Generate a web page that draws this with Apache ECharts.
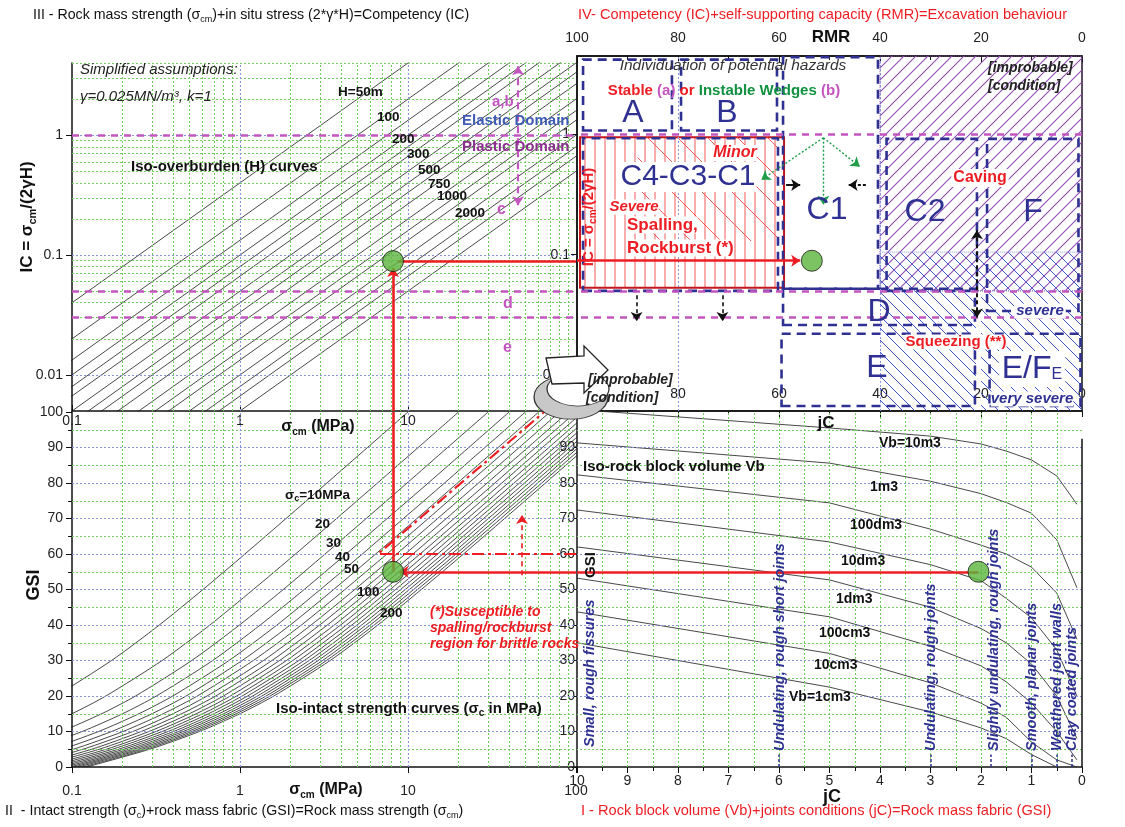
<!DOCTYPE html>
<html>
<head>
<meta charset="utf-8">
<script src="https://cdn.jsdelivr.net/npm/echarts@6/dist/echarts.min.js"></script>
<style>
html,body{margin:0;padding:0;background:#fff;}
#chart{width:1125px;height:827px;}
</style>
</head>
<body>
<div id="chart"></div>
<script>
// ---------------- values ----------------
// III: iso-overburden lines (depth H in m), end points [sigma_cm, IC]
const overburdenDepth = [50, 100, 150, 200, 250, 300, 400, 500, 600, 750, 1000, 1250, 1500, 2000, 2500, 3000, 4000];
const overburdenStart = [[0.01,0.004],[0.01,0.002],[0.01,0.00133],[0.01,0.001],[0.01,0.0008],[0.01,0.000667],[0.01,0.0005],[0.01,0.0004],[0.01,0.000333],[0.01,0.000267],[0.01,0.0002],[0.01,0.00016],[0.01,0.000133],[0.01,0.0001],[0.01,0.00008],[0.01,0.0000667],[0.01,0.00005]];
const overburdenEnd = [[100,40],[100,20],[100,13.3],[100,10],[100,8],[100,6.67],[100,5],[100,4],[100,3.33],[100,2.67],[100,2],[100,1.6],[100,1.33],[100,1],[100,0.8],[100,0.667],[100,0.5]];

// II: iso-intact strength curves, sigma_cm (MPa) at each GSI sample
const gsiSamples = [0, 5, 10, 15, 20, 30, 40, 50, 60, 70, 80, 90, 100];
const intactStrength = [10, 20, 30, 40, 50, 60, 70, 80, 90, 100, 110, 120, 130, 140, 150, 160, 170, 180, 190, 200];
const intactCurves = [
  [0.00608, 0.0145, 0.0287, 0.0499, 0.0796, 0.172, 0.331, 0.602, 1.07, 1.88, 3.29, 5.74, 10],
  [0.0122, 0.029, 0.0574, 0.0998, 0.159, 0.344, 0.662, 1.2, 2.14, 3.76, 6.58, 11.5, 20],
  [0.0182, 0.0435, 0.0861, 0.15, 0.239, 0.516, 0.993, 1.81, 3.21, 5.64, 9.87, 17.2, 30],
  [0.0243, 0.058, 0.115, 0.2, 0.318, 0.688, 1.32, 2.41, 4.28, 7.52, 13.2, 23, 40],
  [0.0304, 0.0725, 0.144, 0.25, 0.398, 0.86, 1.66, 3.01, 5.35, 9.4, 16.5, 28.7, 50],
  [0.0365, 0.087, 0.172, 0.299, 0.478, 1.03, 1.99, 3.61, 6.42, 11.3, 19.7, 34.4, 60],
  [0.0426, 0.102, 0.201, 0.349, 0.557, 1.2, 2.32, 4.21, 7.49, 13.2, 23, 40.2, 70],
  [0.0486, 0.116, 0.23, 0.399, 0.637, 1.38, 2.65, 4.82, 8.56, 15, 26.3, 45.9, 80],
  [0.0547, 0.131, 0.258, 0.449, 0.716, 1.55, 2.98, 5.42, 9.63, 16.9, 29.6, 51.7, 90],
  [0.0608, 0.145, 0.287, 0.499, 0.796, 1.72, 3.31, 6.02, 10.7, 18.8, 32.9, 57.4, 100],
  [0.0669, 0.16, 0.316, 0.549, 0.876, 1.89, 3.64, 6.62, 11.8, 20.7, 36.2, 63.1, 110],
  [0.073, 0.174, 0.344, 0.599, 0.955, 2.06, 3.97, 7.22, 12.8, 22.6, 39.5, 68.9, 120],
  [0.079, 0.189, 0.373, 0.649, 1.03, 2.24, 4.3, 7.83, 13.9, 24.4, 42.8, 74.6, 130],
  [0.0851, 0.203, 0.402, 0.699, 1.11, 2.41, 4.63, 8.43, 15, 26.3, 46.1, 80.4, 140],
  [0.0912, 0.218, 0.431, 0.749, 1.19, 2.58, 4.97, 9.03, 16.1, 28.2, 49.4, 86.1, 150],
  [0.0973, 0.232, 0.459, 0.798, 1.27, 2.75, 5.3, 9.63, 17.1, 30.1, 52.6, 91.8, 160],
  [0.103, 0.247, 0.488, 0.848, 1.35, 2.92, 5.63, 10.2, 18.2, 32, 55.9, 97.6, 170],
  [0.109, 0.261, 0.517, 0.898, 1.43, 3.1, 5.96, 10.8, 19.3, 33.8, 59.2, 103, 180],
  [0.116, 0.276, 0.545, 0.948, 1.51, 3.27, 6.29, 11.4, 20.3, 35.7, 62.5, 109, 190],
  [0.122, 0.29, 0.574, 0.998, 1.59, 3.44, 6.62, 12, 21.4, 37.6, 65.8, 115, 200]
];

// I: iso-rock block volume curves, GSI at each jC sample
const jcSamples = [10, 5, 3, 2, 1.5, 1, 0.5, 0.1];
const blockVolume = ['10m3', '1m3', '100dm3', '10dm3', '1dm3', '100cm3', '10cm3', '1cm3'];
const blockCurves = [
  [100.7, 95.5, 93.2, 91.0, 89.0, 86.5, 82, 74],
  [91.3, 85.6, 80.5, 77, 74.5, 71.5, 64, 50.5],
  [82.3, 74.4, 67, 62.5, 60, 56.3, 49, 36],
  [72.4, 63.4, 57, 52.5, 47.5, 42, 33, 20],
  [62, 52.7, 45, 39, 35, 29, 20, 8],
  [53.2, 42.3, 34, 28.5, 24, 18, 10, 2],
  [43.7, 32, 23.7, 18, 14, 7, 2, 0],
  [35, 22.5, 15.5, 11, 8, 3.5, 0, null]
];

// worked example
const exampleSigmaCM = 8.15, exampleIC = 0.089, exampleGSI = 55, exampleJC = 2.05, exampleRMR = 53.5;
// IC class limits (a,b | c | d | e)
const icLimits = [1, 0.05, 0.025];

// axis helper values (grid lines)
const logMinor = [0.2,0.3,0.4,0.5,0.6,0.7,0.8,0.9,2,3,4,5,6,7,8,9,20,30,40,50,60,70,80,90];
const logMajor = [1, 10];
const icMinor = [0.006,0.007,0.008,0.009,0.02,0.03,0.04,0.05,0.06,0.07,0.08,0.09,0.2,0.3,0.4,0.5,0.6,0.7,0.8,0.9,2,3,4];
const icMajor = [0.01, 0.1, 1];
const gsiMinor = [5,15,25,35,45,55,65,75,85,95];
const gsiMajor = [10,20,30,40,50,60,70,80,90];
const jcMinor = [0.5,1,1.5,2,2.5,3,3.5,4,4.5,5,5.5,6,6.5,7,7.5,8,8.5,9,9.5];
const jointClasses = [6, 3, 1.8, 1, 0.5, 0.2];

// excavation behaviour zones: [RMR from, RMR to], [IC from, IC to]
const zoneBoxes = {
  A: [[98.8, 81.2], [1.08, 4.2]],
  B: [[79.4, 60.4], [1.08, 4.2]],
  C4C3C1: [[98.8, 60.2], [0.05, 0.93]],
  C1: [[59.2, 40.4], [0.052, 4.4]],
  C2: [[38.7, 20.8], [0.05, 0.92]],
  F: [[18.8, 0.7], [0.034, 0.92]],
  D: [[59.2, 21.2], [0.026, 0.052]],
  E: [[59.5, 21.2], [0.0055, 0.022]],
  EF: [[18.3, 0.3], [0.0055, 0.022]]
};
const spallingZone = [[99.4, 59], [0.053, 0.95]];
const cavingZone = [[40, 0], [0.05, 4.5]];
const cavingSevere = [[40, 0], [0.05, 0.105]];
const squeezingZones = [[[40, 21], [0.005, 0.05]], [[20, 0], [0.005, 0.05]]];

// ---------------- styles ----------------
const FONT = '"Liberation Sans", Arial, Helvetica, sans-serif';
const NAVY = '#2e3192', RED = '#ee1d23', MAG = '#c455c0', PURPLE = '#8b2f8f', GTXT = '#11913f';
const HATCH_P = '#8e4fb0', HATCH_N = '#3d55c8';
const GRID_G = '#6fcf5a', GRID_B = '#8a94da';

function hatch(size, color, width, dirs) {
  const c = document.createElement('canvas');
  c.width = c.height = size;
  const g = c.getContext('2d');
  g.strokeStyle = color; g.lineWidth = width; g.lineCap = 'square';
  dirs.forEach(function (d) {
    g.beginPath();
    if (d === '/') { g.moveTo(0, size); g.lineTo(size, 0); g.moveTo(-2, 2); g.lineTo(2, -2); g.moveTo(size - 2, size + 2); g.lineTo(size + 2, size - 2); }
    if (d === '\\') { g.moveTo(0, 0); g.lineTo(size, size); g.moveTo(size - 2, -2); g.lineTo(size + 2, 2); g.moveTo(-2, size - 2); g.lineTo(2, size + 2); }
    if (d === '|') { g.moveTo(size / 2, 0); g.lineTo(size / 2, size); }
    g.stroke();
  });
  return { image: c, repeat: 'repeat' };
}

function vl(vals, color) { return vals.map(v => ({ xAxis: v, lineStyle: { color: color, type: [2, 2], width: 1 } })); }
function hl(vals, color) { return vals.map(v => ({ yAxis: v, lineStyle: { color: color, type: [2, 2], width: 1 } })); }
function seg(a, b, style, sym) {
  return [{ coord: a, symbol: sym ? sym[0] : 'none' }, { coord: b, symbol: sym ? sym[1] : 'none', lineStyle: style }];
}
function area(r, i, style) { return [{ coord: [r[0], i[0]], itemStyle: Object.assign({ opacity: 1 }, style) }, { coord: [r[1], i[1]] }]; }

const navyBox = { color: 'rgba(0,0,0,0)', borderColor: NAVY, borderWidth: 2.6, borderType: [9, 6] };

// ---------------- series ----------------
const series = [];
function holder(xi, yi, ml, ma, z) {
  series.push({
    type: 'line', xAxisIndex: xi, yAxisIndex: yi, data: [], silent: true, z: z || 1,
    markLine: ml ? { silent: true, symbol: 'none', symbolSize: 9, animation: false, label: { show: false }, data: ml } : undefined,
    markArea: ma ? { silent: true, animation: false, label: { show: false }, data: ma } : undefined
  });
}

// grid lines
holder(0, 0, vl(logMinor, GRID_G).concat(hl(icMinor, GRID_G), vl(logMajor, GRID_B), hl(icMajor, GRID_B)));
holder(3, 2, vl(logMinor, GRID_G).concat(hl(gsiMinor, GRID_G), vl(logMajor, GRID_B), hl(gsiMajor, GRID_B)));
holder(4, 3, vl(jcMinor, GRID_G).concat(hl(gsiMinor, GRID_G), hl(gsiMajor, GRID_B)));
holder(1, 1, vl([80, 40], GRID_B));

// zones of excavation behaviour
holder(1, 1, null, [
  area(squeezingZones[0][0], squeezingZones[0][1], { color: hatch(12, HATCH_N, 1, ['\\']) }),
  area(squeezingZones[1][0], squeezingZones[1][1], { color: hatch(12, HATCH_N, 1, ['\\']) }),
  area(spallingZone[0], spallingZone[1], { color: hatch(10, '#f04a4a', 0.9, ['|']), borderColor: '#c4161c', borderWidth: 2 }),
  area([88, 60], [0.13, 0.95], { color: hatch(30, '#f04a4a', 0.9, ['\\']) }),
  area(cavingZone[0], cavingZone[1], { color: hatch(12, HATCH_P, 1.1, ['/']), borderColor: HATCH_P, borderWidth: 1, borderType: 'dotted' }),
  area(cavingSevere[0], cavingSevere[1], { color: hatch(12, HATCH_N, 1, ['\\']), borderColor: GRID_B, borderWidth: 1, borderType: 'dotted' }),
  area(zoneBoxes.A[0], zoneBoxes.A[1], navyBox),
  area(zoneBoxes.B[0], zoneBoxes.B[1], navyBox),
  area(zoneBoxes.C4C3C1[0], zoneBoxes.C4C3C1[1], navyBox),
  area(zoneBoxes.C1[0], zoneBoxes.C1[1], navyBox),
  area(zoneBoxes.C2[0], zoneBoxes.C2[1], navyBox),
  area(zoneBoxes.F[0], zoneBoxes.F[1], navyBox),
  area(zoneBoxes.D[0], zoneBoxes.D[1], navyBox),
  area(zoneBoxes.E[0], zoneBoxes.E[1], navyBox),
  area(zoneBoxes.EF[0], zoneBoxes.EF[1], navyBox)
], 2);

// IC class limits
const magStyle = { color: MAG, type: [7, 6], width: 2.6 };
holder(0, 0, icLimits.map(v => ({ yAxis: v, lineStyle: magStyle })), null, 3);
holder(1, 1, icLimits.map(v => ({ yAxis: v, lineStyle: magStyle })), null, 3);

// iso-overburden lines
overburdenDepth.forEach(function (h, i) {
  series.push({ type: 'line', name: 'H=' + h, xAxisIndex: 0, yAxisIndex: 0, data: [overburdenStart[i], overburdenEnd[i]],
    symbol: 'none', silent: true, z: 4, lineStyle: { color: '#1a1a1a', width: 0.8 } });
});
// iso-intact strength curves
intactStrength.forEach(function (sc, i) {
  series.push({ type: 'line', name: 'sc=' + sc, xAxisIndex: 3, yAxisIndex: 2, smooth: 0.25,
    data: intactCurves[i].map((s, j) => [s, gsiSamples[j]]), symbol: 'none', silent: true, z: 4,
    lineStyle: { color: '#1a1a1a', width: 0.8 } });
});
// iso-block volume curves
blockVolume.forEach(function (vb, i) {
  const pts = [];
  jcSamples.forEach((j, k) => { if (blockCurves[i][k] !== null) pts.push([j, blockCurves[i][k]]); });
  series.push({ type: 'line', name: 'Vb=' + vb, xAxisIndex: 4, yAxisIndex: 3, data: pts, symbol: 'none', silent: true, z: 4,
    lineStyle: { color: '#333', width: 0.9 } });
});

// joint condition markers on the jC axis
holder(4, 3, jointClasses.map(j => seg([j, 0], [j, 3.5], { color: NAVY, type: [3, 2], width: 1.5 })), null, 5);
// right frame of panel I
holder(4, 3, [seg([0, 0], [0, 92.5], { color: '#111', type: 'solid', width: 1.5 })], null, 5);

// arrows inside the panels
const redSolid = { color: RED, type: 'solid', width: 2.6 };
holder(0, 0, [
  seg([exampleSigmaCM, 0.005], [exampleSigmaCM, 0.078], redSolid, ['none', 'arrow']),
  seg([8.7, exampleIC], [100, exampleIC], redSolid),
  seg([45.2, 3.76], [45.2, 0.26], { color: MAG, type: [7, 5], width: 2.2 }, ['arrow', 'arrow'])
], null, 6);
holder(1, 1, [
  seg([100, exampleIC], [55.8, exampleIC], redSolid, ['none', 'arrow']),
  seg([51.2, 0.94], [51.2, 0.26], { color: '#1f9e4a', type: [2, 2], width: 1.4 }, ['none', 'arrow']),
  seg([51.2, 0.94], [63.5, 0.42], { color: '#1f9e4a', type: [2, 2], width: 1.4 }, ['none', 'arrow']),
  seg([51.2, 0.94], [44.0, 0.54], { color: '#1f9e4a', type: [2, 2], width: 1.4 }, ['none', 'arrow']),
  seg([58.6, 0.38], [55.8, 0.38], { color: '#111', type: 'solid', width: 2 }, ['none', 'arrow']),
  seg([42.8, 0.38], [46.2, 0.38], { color: '#111', type: [3, 2], width: 2 }, ['none', 'arrow']),
  seg([20.8, 0.16], [20.8, 0.03], { color: '#111', type: [4, 3], width: 2 }, ['arrow', 'arrow']),
  seg([88.2, 0.046], [88.2, 0.028], { color: '#111', type: [4, 3], width: 1.6 }, ['none', 'arrow']),
  seg([71.2, 0.046], [71.2, 0.028], { color: '#111', type: [4, 3], width: 1.6 }, ['none', 'arrow'])
], null, 6);
holder(3, 2, [
  seg([exampleSigmaCM, exampleGSI], [exampleSigmaCM, 100], redSolid),
  seg([100, exampleGSI], [8.9, exampleGSI], redSolid, ['none', 'arrow']),
  seg([47.7, 54], [47.7, 71], { color: RED, type: [5, 4], width: 1.6 }, ['none', 'arrow'])
], null, 6);
holder(4, 3, [seg([exampleJC, exampleGSI], [10, exampleGSI], redSolid)], null, 6);

// spalling susceptibility limit (dash-dot)
series.push({ type: 'line', xAxisIndex: 3, yAxisIndex: 2, data: [[100, 60], [6.63, 60], [64.6, 100]], symbol: 'none', silent: true, z: 6,
  lineStyle: { color: RED, width: 2.2, type: [12, 4, 3, 4] } });

// worked-example points
const dotStyle = { color: '#5ab43c', borderColor: '#1a1a1a', borderWidth: 1 };
[[0, 0, [exampleSigmaCM, exampleIC]], [1, 1, [exampleRMR, exampleIC]], [3, 2, [exampleSigmaCM, exampleGSI]], [4, 3, [exampleJC, exampleGSI]]]
  .forEach(function (d) {
    series.push({ type: 'scatter', xAxisIndex: d[0], yAxisIndex: d[1], data: [d[2]], symbolSize: 21, itemStyle: dotStyle, z: 8, silent: true });
  });

// ---------------- axes ----------------
const lbl = { fontSize: 14, color: '#222', fontFamily: FONT };
const axLine = { onZero: false, lineStyle: { color: '#111', width: 1.5 } };
const tickStyle = { lineStyle: { color: '#111', width: 1 } };
const xAxes = [
  { gridIndex: 0, type: 'log', logBase: 10, min: 0.1, max: 100, axisLine: axLine, axisTick: Object.assign({ inside: true, length: 6 }, tickStyle),
    axisLabel: Object.assign({ margin: 3, showMaxLabel: false }, lbl), splitLine: { show: false } },
  { gridIndex: 1, type: 'value', min: 0, max: 100, interval: 20, inverse: true, position: 'top', axisLine: axLine,
    axisTick: Object.assign({ inside: true, length: 7 }, tickStyle), minorTick: { show: true, splitNumber: 2, length: 4, lineStyle: { color: '#111' } },
    axisLabel: Object.assign({ margin: 11 }, lbl), splitLine: { show: false } },
  { gridIndex: 1, type: 'value', min: 0, max: 100, interval: 20, inverse: true, position: 'bottom', axisLine: axLine,
    axisTick: Object.assign({ inside: false, length: 6 }, tickStyle), minorTick: { show: true, splitNumber: 2, length: 4, lineStyle: { color: '#111' } },
    axisLabel: Object.assign({ inside: true, margin: 10 }, lbl), splitLine: { show: false } },
  { gridIndex: 2, type: 'log', logBase: 10, min: 0.1, max: 100, axisLine: axLine, axisTick: Object.assign({ length: 6 }, tickStyle),
    axisLabel: Object.assign({ margin: 17 }, lbl), splitLine: { show: false } },
  { gridIndex: 3, type: 'value', min: 0, max: 10, interval: 1, inverse: true, axisLine: axLine, axisTick: Object.assign({ length: 6 }, tickStyle),
    minorTick: { show: true, splitNumber: 2, length: 4, lineStyle: { color: '#111' } },
    axisLabel: Object.assign({ margin: 7 }, lbl), splitLine: { show: false } }
];
const yAxes = [
  { gridIndex: 0, type: 'log', logBase: 10, min: 0.005, max: 4, axisLine: axLine, axisTick: Object.assign({ length: 6 }, tickStyle),
    axisLabel: Object.assign({ margin: 9, showMinLabel: false, showMaxLabel: false }, lbl), splitLine: { show: false } },
  { gridIndex: 1, type: 'log', logBase: 10, min: 0.005, max: 4.5, axisLine: axLine, axisTick: Object.assign({ length: 6 }, tickStyle),
    axisLabel: Object.assign({ margin: 7, showMinLabel: false, showMaxLabel: false }, lbl), splitLine: { show: false } },
  { gridIndex: 2, type: 'value', min: 0, max: 100, interval: 10, axisLine: axLine, axisTick: Object.assign({ length: 6 }, tickStyle),
    minorTick: { show: true, splitNumber: 2, length: 4, lineStyle: { color: '#111' } },
    axisLabel: Object.assign({ margin: 9 }, lbl), splitLine: { show: false } },
  { gridIndex: 3, type: 'value', min: 0, max: 100, interval: 10, axisLine: axLine, axisTick: Object.assign({ length: 5 }, tickStyle),
    axisLabel: Object.assign({ margin: 2, showMaxLabel: false }, lbl), splitLine: { show: false } }
];

// ---------------- text and decoration ----------------
const G = [];
function T(x, y, text, o) {
  o = o || {};
  const size = o.size || 14, w = o.weight || 'normal', st = o.italic ? 'italic' : 'normal', col = o.color || '#111';
  const rich = Object.assign({
    s: { fontSize: Math.round(size * 0.64), fontWeight: w, fontStyle: st, fontFamily: FONT, fill: col, verticalAlign: 'bottom', padding: [Math.round(size * 0.62), 0, 0, 0] }
  }, o.rich || {});
  return {
    type: 'text', x: x, y: y, rotation: o.rot || 0, z: o.z || 50, silent: true,
    style: { text: text, fill: col, fontFamily: FONT, fontSize: size, fontWeight: w, fontStyle: st,
      align: o.align || 'left', verticalAlign: o.va || 'middle', backgroundColor: o.bg, padding: o.pad, rich: rich }
  };
}

// panel titles
G.push(T(33, 15, 'III - Rock mass strength (σ{s|cm})+in situ stress (2*γ*H)=Competency (IC)', { size: 14.2 }));
G.push(T(578, 15, 'IV- Competency (IC)+self-supporting capacity (RMR)=Excavation behaviour', { size: 14.6, color: RED }));
G.push(T(5, 811, 'II  - Intact strength (σ{s|c})+rock mass fabric (GSI)=Rock mass strength (σ{s|cm})', { size: 14.2 }));
G.push(T(581, 811, 'I - Rock block volume (Vb)+joints conditions (jC)=Rock mass fabric (GSI)', { size: 14.6, color: RED }));

// axis titles
G.push(T(27, 217, 'IC = σ{s|cm}/(2γH)', { size: 17, weight: 'bold', rot: Math.PI / 2, align: 'center' }));
G.push(T(318, 427, 'σ{s|cm} (MPa)', { size: 16, weight: 'bold', align: 'center' }));
G.push(T(34, 585, 'GSI', { size: 18, weight: 'bold', rot: Math.PI / 2, align: 'center' }));
G.push(T(326, 790, 'σ{s|cm} (MPa)', { size: 16, weight: 'bold', align: 'center' }));
G.push(T(831, 37, 'RMR', { size: 17, weight: 'bold', align: 'center' }));
G.push(T(826, 423, 'jC', { size: 17, weight: 'bold', align: 'center' }));
G.push(T(832, 797, 'jC', { size: 18, weight: 'bold', align: 'center' }));
G.push(T(591, 565, 'GSI', { size: 15, weight: 'bold', rot: Math.PI / 2, align: 'center' }));
G.push(T(589, 217, 'IC = σ{s|cm}/(2γH)', { size: 15, weight: 'bold', color: RED, rot: Math.PI / 2, align: 'center', z: 55 }));

// panel III annotations
G.push(T(80, 70, 'Simplified assumptions:', { size: 15, italic: true, color: '#222' }));
G.push(T(80, 97, 'γ=0.025MN/m³, k=1', { size: 15, italic: true, color: '#222' }));
G.push(T(131, 167, 'Iso-overburden (H) curves', { size: 15, weight: 'bold' }));
[['H=50m', 338, 92], ['100', 377, 117], ['200', 392, 139], ['300', 407, 154], ['500', 418, 170], ['750', 428, 184], ['1000', 437, 196], ['2000', 455, 213]]
  .forEach(a => G.push(T(a[1], a[2], a[0], { size: 13.5, weight: 'bold' })));
G.push(T(492, 102, 'a,b', { size: 15, weight: 'bold', color: MAG }));
G.push(T(462, 121, 'Elastic Domain', { size: 15, weight: 'bold', color: '#3f5bb5' }));
G.push(T(462, 147, 'Plastic Domain', { size: 15, weight: 'bold', color: PURPLE }));
G.push(T(497, 210, 'c', { size: 16, weight: 'bold', color: MAG }));
G.push(T(503, 304, 'd', { size: 16, weight: 'bold', color: MAG }));
G.push(T(503, 348, 'e', { size: 16, weight: 'bold', color: MAG }));

// panel IV annotations
G.push(T(733, 66, 'Individuation of potential hazards', { size: 15.5, italic: true, color: '#333', align: 'center' }));
G.push(T(724, 91, '{r|Stable }{m|(a)}{r| or }{g|Instable Wedges }{m|(b)}', { size: 15, weight: 'bold', align: 'center',
  rich: { r: { fill: RED, fontWeight: 'bold', fontSize: 15, fontFamily: FONT }, m: { fill: MAG, fontWeight: 'bold', fontSize: 15, fontFamily: FONT },
          g: { fill: GTXT, fontWeight: 'bold', fontSize: 15, fontFamily: FONT } } }));
G.push(T(633, 113, 'A', { size: 32, color: NAVY, align: 'center' }));
G.push(T(727, 113, 'B', { size: 32, color: NAVY, align: 'center' }));
G.push(T(735, 153, 'Minor', { size: 16, weight: 'bold', italic: true, color: RED, align: 'center', bg: '#fff' }));
G.push(T(688, 177, 'C4-C3-C1', { size: 30, color: NAVY, align: 'center', bg: '#fff', pad: [0, 1] }));
G.push(T(634, 207, 'Severe', { size: 15, weight: 'bold', italic: true, color: RED, align: 'center', bg: '#fff' }));
G.push(T(627, 225, 'Spalling,', { size: 17, weight: 'bold', color: RED, bg: '#fff' }));
G.push(T(627, 248, 'Rockburst (*)', { size: 17, weight: 'bold', color: RED, bg: '#fff' }));
G.push(T(827, 210, 'C1', { size: 32, color: NAVY, align: 'center' }));
G.push(T(925, 212, 'C2', { size: 32, color: NAVY, align: 'center' }));
G.push(T(1033, 212, 'F', { size: 32, color: NAVY, align: 'center' }));
G.push(T(980, 178, 'Caving', { size: 16, weight: 'bold', color: RED, align: 'center', bg: '#fff', pad: [1, 2] }));
G.push(T(879, 312, 'D', { size: 32, color: NAVY, align: 'center' }));
G.push(T(1040, 311, 'severe', { size: 15, weight: 'bold', italic: true, color: NAVY, align: 'center', bg: '#fff', pad: [0, 2] }));
G.push(T(956, 342, 'Squeezing (**)', { size: 15, weight: 'bold', color: RED, align: 'center', bg: '#fff' }));
G.push(T(877, 368, 'E', { size: 32, color: NAVY, align: 'center' }));
G.push(T(1032, 369, '{b|E/F}{e|E}', { size: 32, color: NAVY, align: 'center', bg: '#fff', pad: [2, 3],
  rich: { b: { fontSize: 32, fill: NAVY, fontFamily: FONT }, e: { fontSize: 16, fill: NAVY, fontFamily: FONT, verticalAlign: 'bottom', padding: [0, 0, 2, 0] } } }));
G.push(T(1032, 399, 'very severe', { size: 15, weight: 'bold', italic: true, color: NAVY, align: 'center', bg: '#fff' }));
G.push(T(988, 68, '[improbable]', { size: 14, weight: 'bold', italic: true, color: '#222' }));
G.push(T(988, 86, '[condition]', { size: 14, weight: 'bold', italic: true, color: '#222' }));
G.push(T(588, 380, '[improbable]', { size: 14, weight: 'bold', italic: true, color: '#222', z: 95 }));
G.push(T(586, 398, '[condition]', { size: 14, weight: 'bold', italic: true, color: '#222', z: 95 }));

// panel II annotations
G.push(T(285, 495, 'σ{s|c}=10MPa', { size: 13.5, weight: 'bold' }));
[['20', 315, 524], ['30', 326, 543], ['40', 335, 557], ['50', 344, 569], ['100', 357, 592], ['200', 380, 613]]
  .forEach(a => G.push(T(a[1], a[2], a[0], { size: 13.5, weight: 'bold' })));
G.push(T(276, 709, 'Iso-intact strength curves (σ{s|c} in MPa)', { size: 15, weight: 'bold' }));
G.push(T(430, 612, '(*)Susceptible to', { size: 14, weight: 'bold', italic: true, color: RED }));
G.push(T(430, 628, 'spalling/rockburst', { size: 14, weight: 'bold', italic: true, color: RED }));
G.push(T(430, 644, 'region for brittle rocks', { size: 14, weight: 'bold', italic: true, color: RED }));

// panel I annotations
G.push(T(583, 467, 'Iso-rock block volume Vb', { size: 15, weight: 'bold' }));
[['Vb=10m3', 879, 443], ['1m3', 870, 487], ['100dm3', 850, 525], ['10dm3', 841, 561], ['1dm3', 836, 599],
 ['100cm3', 819, 633], ['10cm3', 814, 665], ['Vb=1cm3', 789, 697]]
  .forEach(a => G.push(T(a[1], a[2], a[0], { size: 14, weight: 'bold' })));
[['Small, rough fissures', 590, 747], ['Undulating, rough short joints', 780, 751], ['Undulating, rough joints', 931, 751],
 ['Slightly undulating, rough joints', 994, 751], ['Smooth, planar joints', 1032, 751], ['Weathered joint walls', 1057, 751],
 ['Clay coated joints', 1072, 751]]
  .forEach(a => G.push(T(a[1], a[2], a[0], { size: 14.5, weight: 'bold', italic: true, color: NAVY, rot: Math.PI / 2 })));

// rotating arrow linking panel III to panel IV
G.push({ type: 'circle', x: 571, y: 397, scaleY: 0.6, z: 90, silent: true, shape: { cx: 0, cy: 0, r: 37 }, style: { fill: '#c8c8c8', stroke: '#333', lineWidth: 1.3 } });
G.push({ type: 'circle', x: 578, y: 389, scaleY: 0.55, z: 91, silent: true, shape: { cx: 0, cy: 0, r: 31 }, style: { fill: '#fff', stroke: '#333', lineWidth: 1.3 } });
G.push({ type: 'polygon', z: 92, silent: true, shape: { points: [[546, 358], [584, 356], [584, 346], [608, 370], [584, 393], [584, 383], [552, 384]] },
  style: { fill: '#fff', stroke: '#222', lineWidth: 1.3 } });

const chart = echarts.init(document.getElementById('chart'), null, { renderer: 'canvas' });
chart.setOption({
  animation: false,
  backgroundColor: '#fff',
  textStyle: { fontFamily: FONT },
  grid: [
    { left: 72, top: 63, width: 504, height: 348 },
    { left: 577, top: 56, width: 505, height: 355, show: true, borderColor: '#111', borderWidth: 1.5, backgroundColor: 'rgba(0,0,0,0)' },
    { left: 72, top: 412, width: 504, height: 355 },
    { left: 577, top: 412, width: 505, height: 355 }
  ],
  xAxis: xAxes,
  yAxis: yAxes,
  series: series,
  graphic: { elements: G }
});
</script>
</body>
</html>
